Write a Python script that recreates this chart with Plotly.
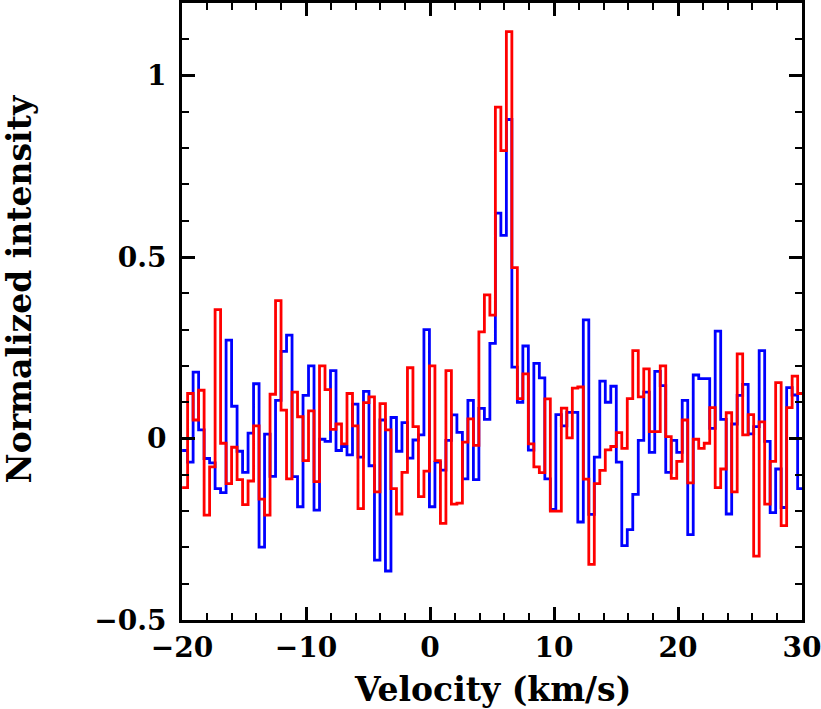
import numpy as np
import plotly.graph_objects as go

# channel grid (km/s)
v_start = -19.99
dv = 0.4432

red = [-0.135, 0.124, 0.051, 0.133, -0.211, -0.078, 0.355, -0.013, -0.124, -0.024,
       -0.113, -0.182, -0.117, 0.035, -0.167, -0.211, 0.122, 0.38, 0.078, -0.111,
       0.128, 0.06, -0.061, 0.076, -0.119, 0.2, 0.135, 0.025, 0.04, -0.015,
       0.124, 0.035, -0.193, 0.099, 0.115, -0.147, 0.096, 0.024, -0.138, -0.208,
       -0.093, 0.195, 0.033, -0.16, -0.09, 0.2, -0.061, -0.234, 0.187, -0.181,
       -0.178, -0.01, 0.054, -0.019, 0.294, 0.396, 0.34, 0.913, 0.793, 1.121,
       0.471, 0.11, 0.178, -0.015, -0.078, -0.094, 0.109, -0.2, -0.2, 0.084,
       0.002, 0.139, 0.142, -0.112, -0.347, -0.124, -0.088, -0.031, -0.022, 0.016,
       -0.027, 0.11, 0.242, 0.115, 0.192, 0.019, 0.019, 0.2, 0.005, -0.11,
       -0.063, 0.051, -0.122, -0.002, -0.027, -0.013, 0.085, -0.135, -0.084, 0.071,
       -0.147, 0.233, 0.01, 0.066, -0.324, 0.046, -0.181, -0.063, 0.154, -0.24,
       0.085, 0.172, 0.124]

blue = [-0.033, -0.065, 0.183, 0.024, -0.055, -0.067, -0.138, -0.149, 0.271, 0.089,
        -0.035, -0.093, 0.015, 0.151, -0.299, 0.012, -0.104, 0.105, 0.24, 0.285,
        -0.105, -0.188, 0.119, 0.2, -0.197, -0.002, -0.008, 0.187, -0.033, -0.022,
        -0.045, 0.095, -0.051, 0.13, -0.075, -0.335, 0.051, -0.365, 0.058, -0.035,
        0.044, -0.054, -0.004, 0.01, 0.3, -0.188, -0.065, -0.087, -0.005, 0.065,
        0.017, -0.111, 0.105, -0.113, 0.083, 0.053, 0.262, 0.621, 0.56, 0.879,
        0.197, 0.1, 0.255, -0.032, 0.207, 0.167, -0.111, -0.195, 0.066, 0.035,
        0.072, 0.072, -0.23, 0.327, -0.209, -0.051, 0.158, 0.1, 0.144, -0.065,
        -0.295, -0.251, -0.154, -0.005, 0.128, -0.038, 0.185, 0.146, -0.093, -0.005,
        -0.038, 0.105, -0.265, 0.175, 0.165, 0.165, 0.028, 0.296, 0.053, -0.208,
        0.04, 0.119, 0.149, 0.013, 0.033, 0.242, -0.008, -0.204, -0.084, -0.19,
        0.14, 0.12, -0.138]

x_ticks = [-20, -10, 0, 10, 20, 30]
x_ticklabels = ["\u221220", "\u221210", "0", "10", "20", "30"]
y_ticks = [-0.5, 0, 0.5, 1]
y_ticklabels = ["\u22120.5", "0", "0.5", "1"]

n = len(red)
edges = v_start + dv * np.arange(n + 1)


def steps(vals):
    return list(vals) + [vals[-1]]


fig = go.Figure()
fig.add_trace(go.Scatter(x=edges, y=steps(blue), mode="lines",
                         line=dict(color="#0000ff", width=2.8, shape="hv"),
                         showlegend=False))
fig.add_trace(go.Scatter(x=edges, y=steps(red), mode="lines",
                         line=dict(color="#ff0000", width=2.8, shape="hv"),
                         showlegend=False))

tick_font = dict(family="DejaVu Serif", size=28, color="black", weight="bold")
title_font = dict(family="DejaVu Serif", size=33, color="black", weight="bold")

axis_common = dict(
    showgrid=False, zeroline=False, showline=True, linecolor="black",
    linewidth=3, mirror="ticks", ticks="inside", ticklen=13, tickwidth=2.5,
    tickcolor="black", tickfont=tick_font, ticklabeloverflow="allow",
)

fig.update_xaxes(range=[-20, 30], tickvals=x_ticks, ticktext=x_ticklabels,
                 minor=dict(dtick=2, ticks="inside", ticklen=7, tickwidth=2,
                            tickcolor="black"),
                 ticklabelstandoff=0, **axis_common)
fig.update_yaxes(range=[-0.5, 1.2], tickvals=y_ticks, ticktext=y_ticklabels,
                 minor=dict(dtick=0.1, ticks="inside", ticklen=7, tickwidth=2,
                            tickcolor="black"),
                 ticklabelstandoff=7, **axis_common)

fig.add_annotation(text="Velocity (km/s)", xref="paper", yref="paper",
                   x=0.5, y=-0.112, xanchor="center", yanchor="middle",
                   showarrow=False, font=title_font)
fig.add_annotation(text="Normalized intensity", xref="paper", yref="paper",
                   x=-0.262, y=0.535, xanchor="center", yanchor="middle",
                   textangle=-90, showarrow=False, font=title_font)

fig.update_layout(width=821, height=709,
                  margin=dict(l=182, r=19, t=0, b=89),
                  paper_bgcolor="white", plot_bgcolor="white")

fig.write_html("out.html", config={"displayModeBar": False})

# remove the browser's default page margin so the figure starts at (0, 0)
with open("out.html", "r", encoding="utf-8") as f:
    html = f.read()
html = html.replace("<head>", "<head><style>html,body{margin:0;padding:0;overflow:hidden;}</style>", 1)
with open("out.html", "w", encoding="utf-8") as f:
    f.write(html)
